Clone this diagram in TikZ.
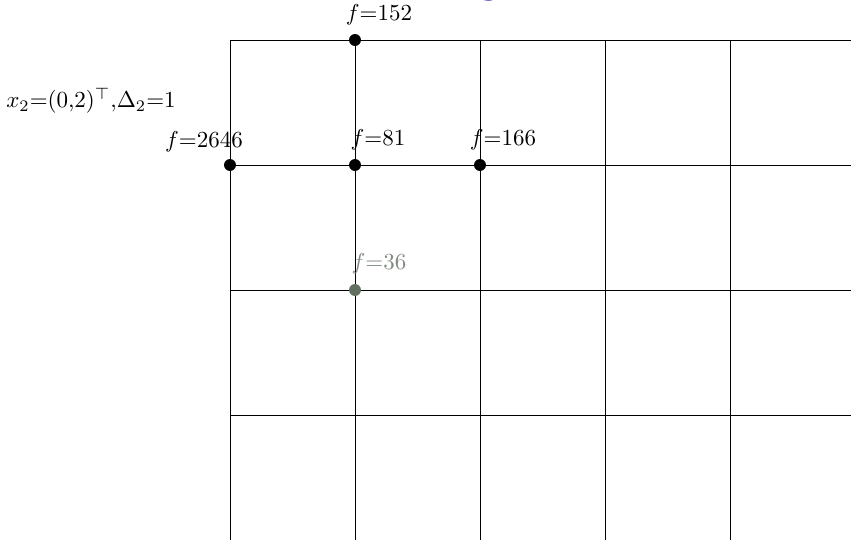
\documentclass[tikz,border=0pt]{standalone}
\definecolor{titleblue}{RGB}{51,51,178}
\definecolor{dimdot}{RGB}{98,112,98}
\definecolor{dimtext}{RGB}{128,138,128}
\begin{document}
\begin{tikzpicture}[x=0.435pt,y=-0.435pt,
  gridline/.style={black,line width=0.42pt},
  pt/.style={circle,fill=black,inner sep=0pt,minimum size=5.2pt},
  dimpt/.style={pt,fill=dimdot},
  lab/.style={anchor=base,inner sep=0pt,font=\normalsize}]
\useasboundingbox (0,0) rectangle (851,540);
% grid
\foreach \x in {230,355,480,605,730}
  \draw[gridline] (\x,40) -- (\x,545);
\foreach \y in {40,165,290,415}
  \draw[gridline] (230,\y) -- (855,\y);
% clipped title letter
\node[lab,font=\sffamily\huge,text=titleblue] (ttl) at (489,-8) {g};
% points
\node[pt] (p152) at (355,40) {};
\node[pt] (p2646) at (230,165) {};
\node[pt] (p81) at (355,165) {};
\node[pt] (p166) at (480,165) {};
\node[dimpt] (p36) at (355,290) {};
% labels
\node[lab] (l152) at (379,21) {$f{=}152$};
\node[lab] (l2646) at (204,147) {$f{=}2646$};
\node[lab] (l81) at (378,146) {$f{=}81$};
\node[lab] (l166) at (503,146) {$f{=}166$};
\node[lab,text=dimtext] (l36) at (379,269) {$f{=}36$};
\node[lab] (lx) at (91,108) {$x_2{=}(0{,}2)^\top{,}\Delta_2{=}1$};
\end{tikzpicture}
\end{document}
